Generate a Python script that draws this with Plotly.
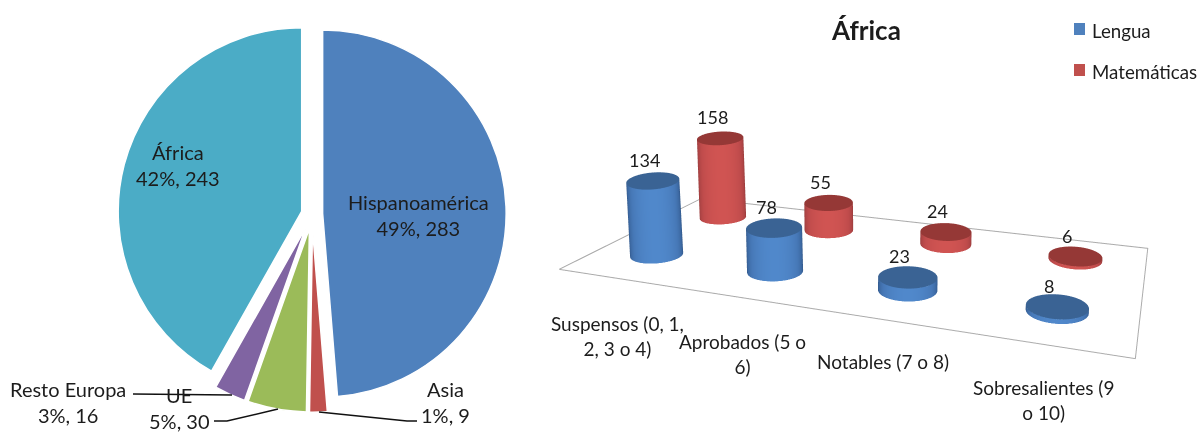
import numpy as np
import plotly.graph_objects as go

# Pie: pupils by region of origin
regions = ["Hispanoamérica", "Asia", "UE", "Resto Europa", "África"]
region_counts = [283, 9, 30, 16, 243]
region_shares = ["49%", "1%", "5%", "3%", "42%"]
region_colors = ["#4f81bd", "#c0504d", "#9bbb59", "#8064a2", "#4bacc6"]
region_pull = [0.058, 0.08, 0.08, 0.08, 0.058]

# Cylinders: marks obtained by pupils from Africa
grades = ["Suspensos (0, 1,<br>2, 3 o 4)", "Aprobados (5 o<br>6)", "Notables (7 o 8)", "Sobresalientes (9<br>o 10)"]
lengua = [134, 78, 23, 8]
matematicas = [158, 55, 24, 6]

W, H = 1200, 432
FONT = "Lato"
INK = "#1c1c1c"


def px(x):
    return x / W


def py(y):
    return 1 - y / H


# Camera of the scene, in scene units
EYE_WORLD = np.array([0.0, 0.0, 1.0])
AZ, PITCH = np.radians(28.1), np.radians(26.2)
FORWARD = np.array([-np.sin(AZ) * np.cos(PITCH), np.cos(AZ) * np.cos(PITCH), -np.sin(PITCH)])
RIGHT = np.array([np.cos(AZ), np.sin(AZ), 0.0])
UP = np.array([-np.sin(AZ) * np.sin(PITCH), np.cos(AZ) * np.sin(PITCH), np.cos(PITCH)])
FOCAL = 0.5 * H / np.tan(np.pi / 8)
VIEW_X, VIEW_Y = 870.0, 216.0

X_RANGE, Y_RANGE, Z_RANGE = (-1.8, 0.2), (0.85, 2.1), (0, 267)
Z_SPAN = 0.6
BOX_CENTER = np.array([sum(X_RANGE) / 2, sum(Y_RANGE) / 2, Z_SPAN / 2])
RADIUS = 0.10
LEAN = 0.25       # keeps the cylinders close to upright on screen


def project(p):
    d = np.asarray(p) - EYE_WORLD
    depth = d @ FORWARD
    return VIEW_X + FOCAL * (d @ RIGHT) / depth, VIEW_Y - FOCAL * (d @ UP) / depth, depth


def unproject(sx, sy, z):
    ray = FOCAL * FORWARD + (sx - VIEW_X) * RIGHT - (sy - VIEW_Y) * UP
    return EYE_WORLD + ray * ((z - EYE_WORLD[2]) / ray[2])


def floor_xy(cat, ser):
    return -1.51 + 0.466 * cat, 1.12 + 0.116 * cat + 0.36 * ser


def world_z(value):
    return value * Z_SPAN / Z_RANGE[1]


def flatness(sy):
    # Cylinder ends open up towards the bottom of the view
    return 0.30 + 0.0006 * (sy - 150)


def ring(sx, sy, rx, ratio, value, th):
    tilt = 0.00035 * (sx - VIEW_X)
    pts = [
        unproject(sx + rx * np.cos(t), sy + rx * (ratio * np.sin(t) + tilt * np.cos(t)), world_z(value))
        for t in th
    ]
    return np.array(pts)


def top_anchor(cat, ser, value):
    bx, by = floor_xy(cat, ser)
    sx0, _, _ = project([bx, by, 0])
    sx1, sy1, _ = project([bx, by, world_z(value)])
    return sx0 + LEAN * (sx1 - sx0), sy1


def cylinder(cat, ser, value, scale, top_color):
    bx, by = floor_xy(cat, ser)
    sx0, sy0, depth = project([bx, by, 0])
    rx = RADIUS * FOCAL / depth
    sx1, sy1 = top_anchor(cat, ser, value)
    ratio = flatness(sy1)
    th = np.linspace(0, 2 * np.pi, 121)
    low = ring(sx0, sy0, rx, ratio, 0, th)
    high = ring(sx1, sy1, rx, ratio, value, th)
    shade = np.clip(np.sin(th), 0, 1)
    flat = dict(ambient=1, diffuse=0, specular=0, fresnel=0, roughness=1)
    body = go.Surface(
        x=np.vstack([low[:, 0], high[:, 0]]), y=np.vstack([low[:, 1], high[:, 1]]),
        z=np.vstack([np.zeros_like(th), np.full_like(th, value)]),
        surfacecolor=np.vstack([shade, shade]), cmin=0, cmax=1,
        colorscale=scale, showscale=False, lighting=flat, hoverinfo="skip",
        scene="scene",
    )
    hub = unproject(sx1, sy1, world_z(value))
    cap = go.Surface(
        x=np.vstack([np.full_like(th, hub[0]), high[:, 0]]),
        y=np.vstack([np.full_like(th, hub[1]), high[:, 1]]),
        z=np.full((2, th.size), value),
        surfacecolor=np.zeros((2, th.size)), cmin=0, cmax=1,
        colorscale=[[0, top_color], [1, top_color]], showscale=False,
        lighting=flat, hoverinfo="skip", scene="scene",
    )
    return [body, cap]


BLUE_SCALE = [[0, "#2a4f7e"], [0.25, "#3a659d"], [0.6, "#4779b8"], [1, "#5088cb"]]
RED_SCALE = [[0, "#8a3230"], [0.25, "#a84243"], [0.6, "#c04c4c"], [1, "#d05452"]]

fig = go.Figure()

fig.add_trace(go.Pie(
    labels=regions, values=region_counts, sort=False, direction="clockwise",
    rotation=0, pull=region_pull, textinfo="none", showlegend=False,
    marker=dict(colors=region_colors, line=dict(color="white", width=1.5)),
    domain=dict(x=[px(113.8), px(510.2)], y=[py(412.2), py(15.8)]),
))

# Floor outline
corners = [(-0.49, -0.5), (-0.49, 1.45), (3.5, 1.45), (3.5, -0.5), (-0.49, -0.5)]
fx, fy = zip(*[floor_xy(c, s) for c, s in corners])
fig.add_trace(go.Scatter3d(
    x=fx, y=fy, z=[0] * 5, mode="lines", showlegend=False, hoverinfo="skip",
    line=dict(color="#ababab", width=2), scene="scene",
))

for i in range(len(grades)):
    fig.add_traces(cylinder(i, 0, lengua[i], BLUE_SCALE, "#3a6394"))
    fig.add_traces(cylinder(i, 1, matematicas[i], RED_SCALE, "#953836"))

# Values above each cylinder, anchored to the scene
scene_notes = []
for ser, values in enumerate([lengua, matematicas]):
    for i, v in enumerate(values):
        sx, sy = top_anchor(i, ser, v)
        anchor = unproject(sx, sy, world_z(v))
        scene_notes.append(dict(
            x=anchor[0], y=anchor[1], z=v, text=str(v), showarrow=False, xshift=-8, yshift=21,
            font=dict(family=FONT, size=18, color=INK),
        ))

eye = EYE_WORLD - BOX_CENTER
look = eye + FORWARD
axis = dict(visible=False, showgrid=False, zeroline=False, showbackground=False, showspikes=False)
fig.update_layout(
    width=W, height=H, margin=dict(l=0, r=0, t=0, b=0),
    paper_bgcolor="white", plot_bgcolor="white", showlegend=False,
    font=dict(family=FONT, size=18, color=INK),
    scene=dict(
        domain=dict(x=[0.45, 1], y=[0, 1]),
        xaxis=dict(range=X_RANGE, **axis),
        yaxis=dict(range=Y_RANGE, **axis),
        zaxis=dict(range=Z_RANGE, **axis),
        aspectmode="manual",
        aspectratio=dict(x=X_RANGE[1] - X_RANGE[0], y=Y_RANGE[1] - Y_RANGE[0], z=Z_SPAN),
        camera=dict(
            eye=dict(x=eye[0], y=eye[1], z=eye[2]),
            center=dict(x=look[0], y=look[1], z=look[2]),
            up=dict(x=0, y=0, z=1),
            projection=dict(type="perspective"),
        ),
        annotations=scene_notes,
    ),
)


def note(x, y, text, size=19, **kw):
    fig.add_annotation(
        xref="paper", yref="paper", x=px(x), y=py(y), text=text, showarrow=False,
        align="center", xanchor="center", yanchor="middle",
        font=dict(family=FONT, size=size, color=INK), **kw,
    )


def pie_label(i, x, y):
    note(x, y, f"{regions[i]}<br>{region_shares[i]}, {region_counts[i]}", size=20)


pie_label(0, 418, 215)
pie_label(1, 445, 402)
pie_label(2, 179, 408)
pie_label(3, 68, 402)
pie_label(4, 178, 165)

# Leader lines of the small slices
for pts in [
    [(133, 394), (232, 395)],
    [(214, 421), (227, 421), (278, 409)],
    [(319, 412), (407, 421), (417, 421)],
]:
    path = "M " + " L ".join(f"{px(a)} {py(b)}" for a, b in pts)
    fig.add_shape(type="path", path=path, xref="paper", yref="paper",
                  line=dict(color="#111111", width=1.5))

# Category labels, title and legend
note(617, 336, grades[0])
note(742, 354, grades[1])
note(883, 361, grades[2])
note(1043, 400, grades[3])
note(866, 30, "<b>África</b>", size=26)

for name, color, y in [("Lengua", "#4f81bd", 31), ("Matemáticas", "#c0504d", 72)]:
    fig.add_shape(type="rect", xref="paper", yref="paper",
                  x0=px(1074), x1=px(1085), y0=py(y - 8), y1=py(y + 4),
                  fillcolor=color, line=dict(width=0))
    fig.add_annotation(xref="paper", yref="paper", x=px(1090), y=py(y), text=name,
                       showarrow=False, xanchor="left", yanchor="middle",
                       font=dict(family=FONT, size=18.7, color=INK))

fig.write_html("out.html")
